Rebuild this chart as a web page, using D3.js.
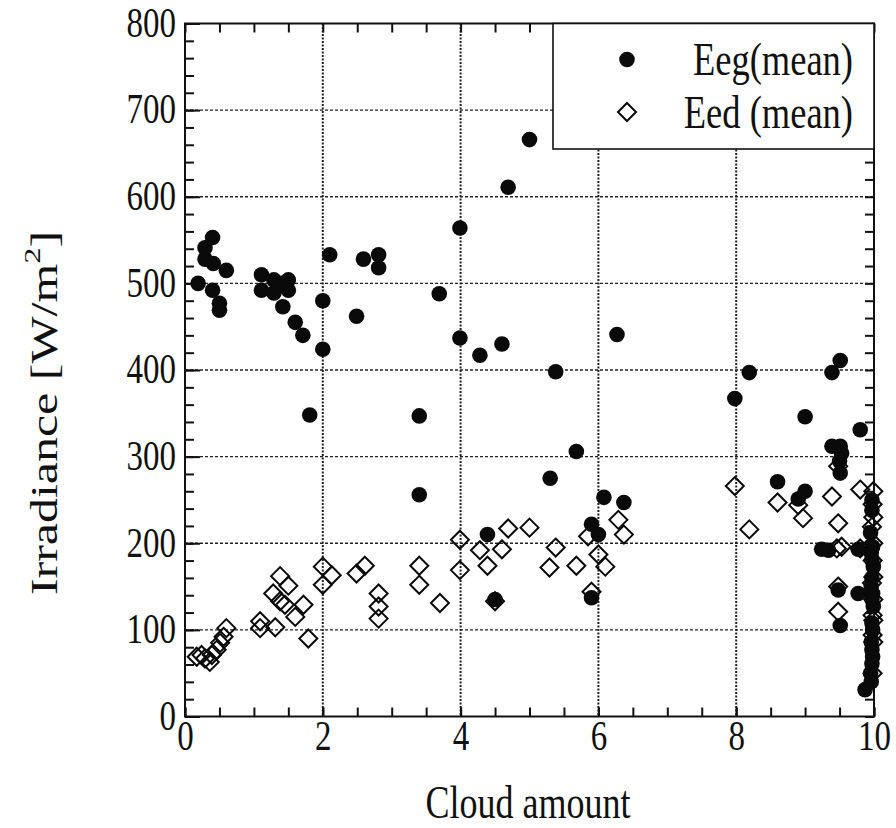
<!DOCTYPE html>
<html>
<head>
<meta charset="utf-8">
<script src="https://cdn.jsdelivr.net/npm/d3@7"></script>
<style>
  body { margin: 0; background: #fff; }
  text { font-family: "Liberation Serif", "Times New Roman", serif; fill: #111; }
  .grid line { stroke: #222; stroke-width: 1.4; stroke-dasharray: 3,2; }
  .grid.vert line { stroke-width: 2; stroke-dasharray: 2,1.5; }
</style>
</head>
<body>
<div id="chart"></div>
<script>
// Eeg(mean): filled circles
var eegCloud = [0.19,0.29,0.40,0.29,0.41,0.40,0.50,0.50,0.60,1.11,1.11,1.29,1.29,1.40,1.50,1.50,1.42,1.60,1.71,1.81,
  2.00,2.00,2.10,2.49,2.59,2.81,2.81,3.40,3.40,3.69,3.99,3.99,4.28,4.39,4.50,4.60,4.69,5.00,5.30,5.38,
  5.68,5.90,5.90,6.00,6.08,6.27,6.37,7.98,8.19,8.60,8.90,9.00,9.00,9.24,9.34,9.39,9.51,9.39,9.51,9.53,
  9.50,9.51,9.48,9.51,9.77,9.77,9.80,9.87,
  9.97,9.97,9.95,9.98,9.96,9.97,9.99,9.97,9.96,9.98,9.97,9.99,9.97,9.98,9.96,9.97,9.98,9.97,9.95,9.96];
var eegIrr = [500,541,553,528,523,492,477,469,515,510,492,504,489,500,504,492,473,455,440,348,
  480,424,533,462,528,533,518,347,256,488,564,437,417,210,135,430,611,666,275,398,
  306,222,137,210,253,441,247,367,397,271,251,260,346,193,192,397,411,312,312,304,
  295,281,146,105,193,142,331,31,
  250,238,212,196,189,181,173,160,150,142,135,127,108,100,86,77,69,61,50,40];

// Eed(mean): open diamonds
var eedCloud = [0.17,0.24,0.29,0.36,0.39,0.46,0.51,0.56,0.60,1.09,1.09,1.31,1.38,1.50,1.28,1.38,1.45,1.60,1.72,1.79,
  2.00,2.13,2.00,2.49,2.61,2.81,2.81,2.81,3.40,3.40,3.70,3.99,3.99,4.28,4.39,4.50,4.60,4.69,5.00,5.29,
  5.38,5.68,5.85,5.90,6.00,6.10,6.29,6.37,7.98,8.19,8.60,8.90,8.97,9.39,9.48,9.48,9.46,9.53,9.48,9.48,
  9.80,9.80,9.99,9.98,9.99,9.97,9.99,9.98,9.99,9.97,9.99,9.98,9.99,9.98,9.99,9.98];
var eedIrr = [69,71,67,63,71,77,85,92,102,110,102,103,162,151,142,133,129,115,129,90,
  173,163,152,165,174,142,127,113,174,152,131,204,169,192,174,133,193,217,218,172,
  195,174,208,144,187,173,227,210,266,216,247,244,229,254,223,289,194,196,150,121,
  262,194,260,245,230,219,200,180,161,154,135,117,111,94,86,50];

var xMajor = [0, 2, 4, 6, 8, 10];
var xMinor = d3.range(0, 10.01, 0.5);
var yMajor = [0, 100, 200, 300, 400, 500, 600, 700, 800];
var yMinor = d3.range(0, 801, 20);
var seriesNames = ["Eeg(mean)", "Eed (mean)"];

function init() {
  var w = 896, h = 828;
  var pLeft = 185, pRight = 874, pTop = 23.5, pBottom = 716.5;
  var stretch = 1.3;

  var xScale = d3.scaleLinear().domain([0, 10]).range([pLeft, pRight]);
  var yScale = d3.scaleLinear().domain([0, 800]).range([pBottom, pTop]);

  var svg = d3.select("#chart").append("svg")
    .attr("width", w).attr("height", h);

  // grid
  svg.append("g").attr("class", "grid vert")
    .selectAll("line").data(xMajor.slice(1, -1)).enter().append("line")
    .attr("x1", d => xScale(d)).attr("x2", d => xScale(d))
    .attr("y1", pTop).attr("y2", pBottom);
  svg.append("g").attr("class", "grid")
    .selectAll("line").data(yMajor.slice(1, -1)).enter().append("line")
    .attr("x1", pLeft).attr("x2", pRight)
    .attr("y1", d => yScale(d)).attr("y2", d => yScale(d));

  // inward ticks on all four sides
  function tickAxis(axis, tr) {
    var g = svg.append("g").attr("transform", tr).call(axis);
    g.select(".domain").remove();
    g.selectAll(".tick line").attr("stroke", "#111").attr("stroke-width", 2);
    return g;
  }
  tickAxis(d3.axisLeft(yScale).tickValues(yMinor).tickSize(-9).tickFormat(""), "translate(" + pLeft + ",0)");
  tickAxis(d3.axisRight(yScale).tickValues(yMinor).tickSize(-9).tickFormat(""), "translate(" + pRight + ",0)");
  tickAxis(d3.axisTop(xScale).tickValues(xMinor).tickSize(-9).tickFormat(""), "translate(0," + pTop + ")");
  tickAxis(d3.axisBottom(xScale).tickValues(xMinor).tickSize(-9).tickFormat(""), "translate(0," + pBottom + ")");

  var yAx = tickAxis(d3.axisLeft(yScale).tickValues(yMajor).tickSize(-15).tickPadding(9), "translate(" + pLeft + ",0)");
  yAx.selectAll("text").attr("font-size", 33).attr("dy", "0.3em")
    .attr("transform", "scale(1," + stretch + ")");
  var xAx = tickAxis(d3.axisBottom(xScale).tickValues(xMajor).tickSize(-9).tickPadding(2), "translate(0," + pBottom + ")");
  xAx.selectAll("text").attr("font-size", 33)
    .attr("transform", "scale(1," + stretch + ")");

  // frame
  svg.append("rect")
    .attr("x", pLeft).attr("y", pTop)
    .attr("width", pRight - pLeft).attr("height", pBottom - pTop)
    .attr("fill", "none").attr("stroke", "#111").attr("stroke-width", 2);

  // points
  var eeg = eegCloud.map((c, i) => ({ c: c, v: eegIrr[i] }));
  var eed = eedCloud.map((c, i) => ({ c: c, v: eedIrr[i] }));
  var diamond = "M0,-9L9,0L0,9L-9,0Z";

  svg.append("g").selectAll("circle").data(eeg).enter().append("circle")
    .attr("cx", d => xScale(d.c)).attr("cy", d => yScale(d.v))
    .attr("r", 7.8).attr("fill", "#0a0a0a");

  svg.append("g").selectAll("path").data(eed).enter().append("path")
    .attr("d", diamond)
    .attr("transform", d => "translate(" + xScale(d.c) + "," + yScale(d.v) + ")")
    .attr("fill", "none").attr("stroke", "#0a0a0a").attr("stroke-width", 2);

  // legend
  var lg = svg.append("g");
  lg.append("rect").attr("x", 553).attr("y", pTop).attr("width", pRight - 553).attr("height", 149 - pTop)
    .attr("fill", "#fff").attr("stroke", "#111").attr("stroke-width", 1.6);
  lg.append("circle").attr("cx", 627).attr("cy", 59.5).attr("r", 7.8).attr("fill", "#0a0a0a");
  lg.append("path").attr("d", diamond).attr("transform", "translate(627,112)")
    .attr("fill", "none").attr("stroke", "#0a0a0a").attr("stroke-width", 2);
  lg.selectAll("text.lab").data(seriesNames).enter().append("text")
    .attr("class", "lab")
    .attr("transform", (d, i) => "translate(853," + (i ? 112 : 59.5) + ") scale(1," + stretch + ")")
    .attr("dy", "0.33em")
    .attr("text-anchor", "end").attr("font-size", 36.5)
    .text(d => d);

  // axis titles
  svg.append("text")
    .attr("transform", "translate(528,803) scale(1," + stretch + ")")
    .attr("dy", "0.33em").attr("text-anchor", "middle").attr("font-size", 36)
    .text("Cloud amount");

  var yt = svg.append("text")
    .attr("transform", "translate(45,413) rotate(-90) scale(1.35,1)")
    .attr("dy", "0.33em").attr("text-anchor", "middle").attr("font-size", 37);
  yt.append("tspan").text("Irradiance [W/m");
  yt.append("tspan").attr("font-size", 24).attr("dy", "-0.7em").text("2");
  yt.append("tspan").attr("dy", "0.45em").text("]");
}
window.onload = init;
</script>
</body>
</html>
